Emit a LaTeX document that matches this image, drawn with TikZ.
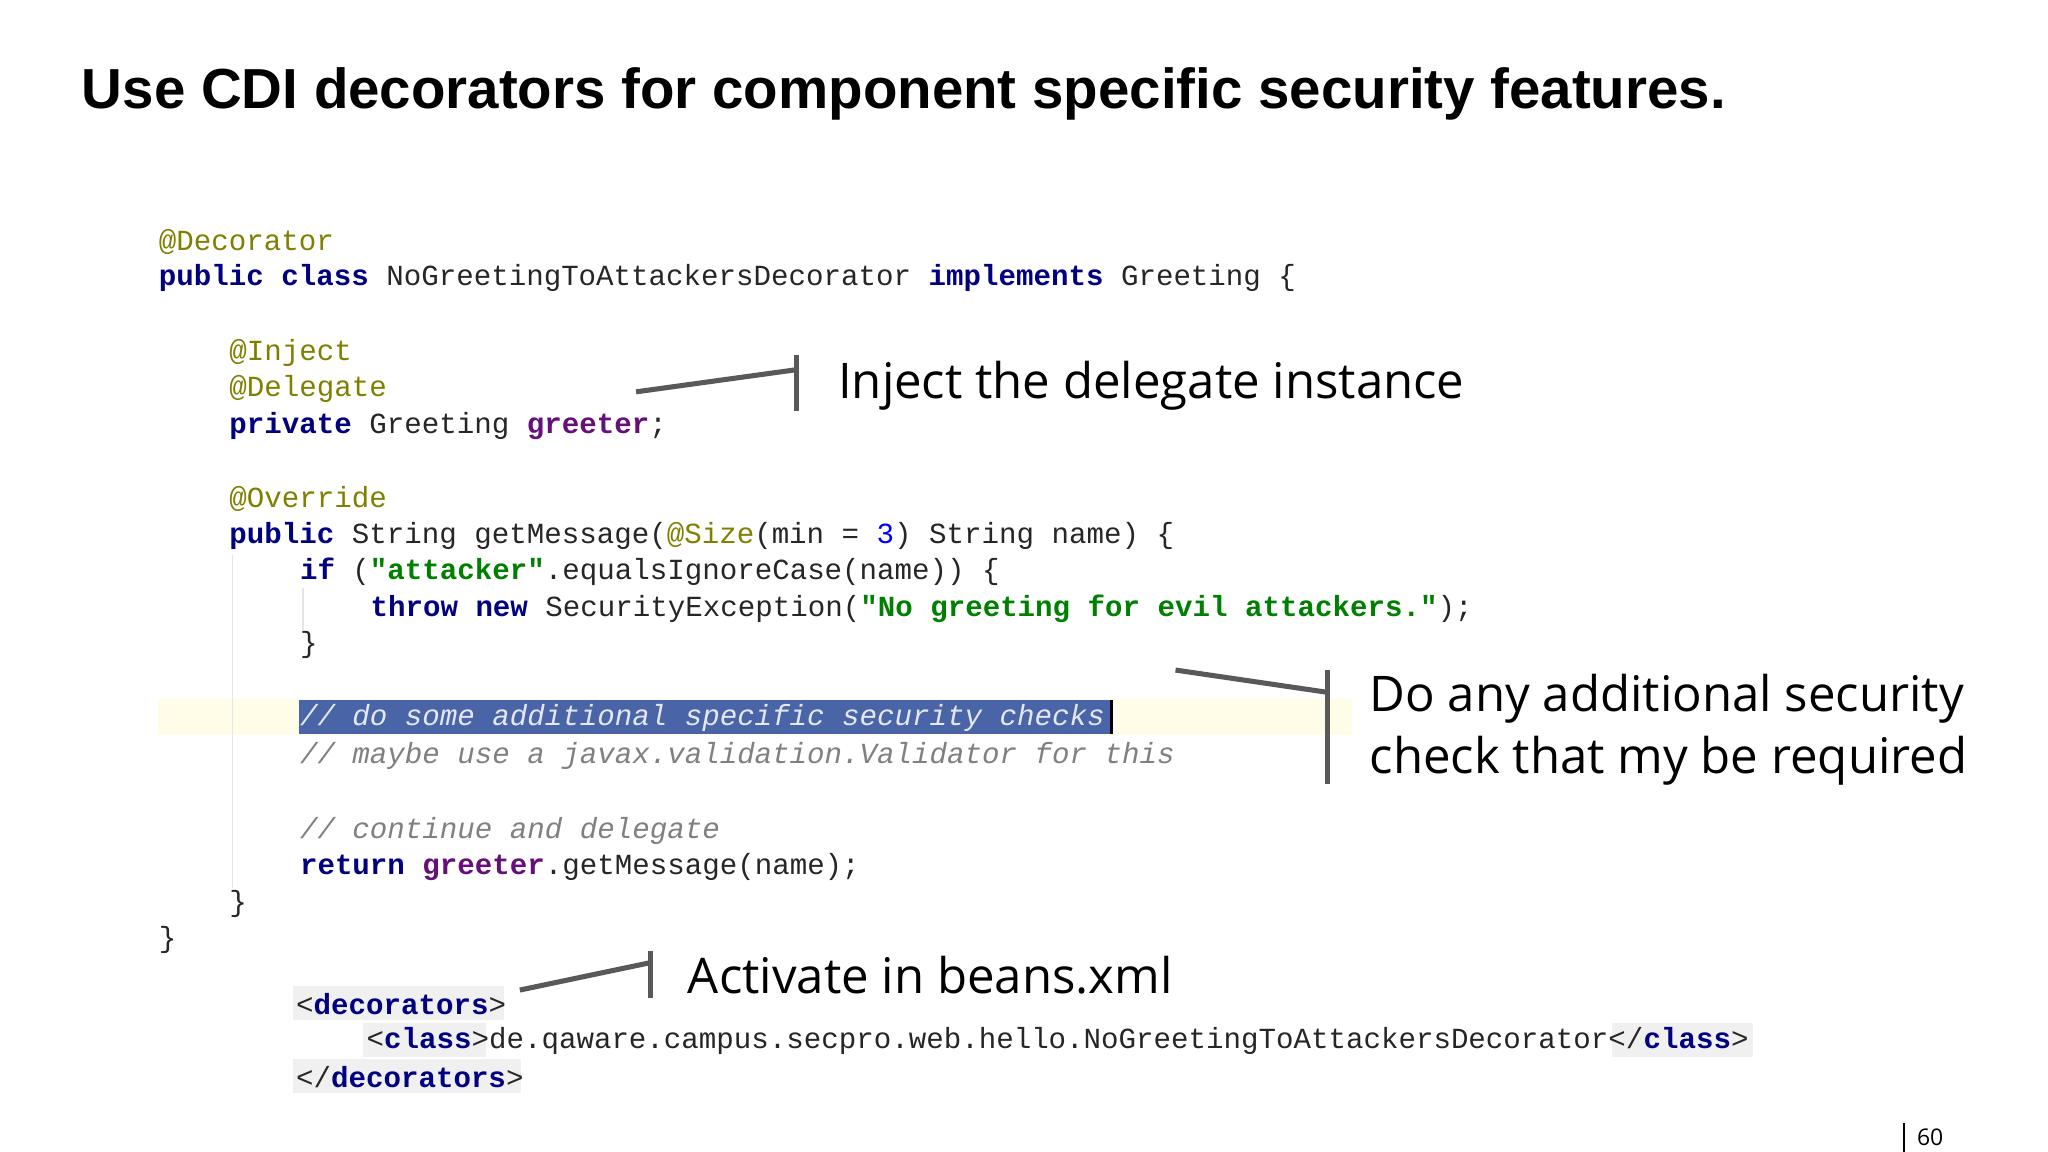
\documentclass[tikz,border=0pt]{standalone}
\usepackage{fontspec}
\setmainfont{Open Sans}
\setmonofont{Liberation Mono}
\newfontfamily\titlefont{Liberation Sans}
\definecolor{ann}{HTML}{808000}
\definecolor{kw}{HTML}{000080}
\definecolor{str}{HTML}{008000}
\definecolor{fld}{HTML}{660E7A}
\definecolor{cmt}{HTML}{808080}
\definecolor{num}{HTML}{0000FF}
\definecolor{call}{HTML}{595959}
\definecolor{sel}{HTML}{4A64A8}
\definecolor{curline}{HTML}{FFFDE8}
\definecolor{txt}{HTML}{262626}
\newcommand{\A}[1]{\textcolor{ann}{#1}}
\newcommand{\K}[1]{\textcolor{kw}{\bfseries #1}}
\newcommand{\St}[1]{\textcolor{str}{\bfseries #1}}
\newcommand{\F}[1]{\textcolor{fld}{\bfseries #1}}
\newcommand{\C}[1]{\textcolor{cmt}{\itshape #1}}
\newcommand{\N}[1]{\textcolor{num}{#1}}
\begin{document}
\begin{tikzpicture}[x=0.1mm,y=-0.1mm,
  code/.style={anchor=west,inner sep=0pt,font=\ttfamily\fontsize{6.35pt}{7pt}\selectfont,text=txt},
  note/.style={anchor=west,inner sep=0pt,font=\fontsize{10.7pt}{13.5pt}\selectfont,text=black,align=left},
  callout/.style={draw=call,line width=1.1pt},
  guide/.style={draw=black!10,line width=0.3pt}]
\useasboundingbox[fill=white] (0,0) rectangle (1568,882);
\node[anchor=west,inner sep=0pt,font=\titlefont\bfseries\fontsize{12.3pt}{15pt}\selectfont] (title) at (62,72) {Use CDI decorators for component specific security features.};
% highlights
\fill[curline] (121,535) rectangle (1035,563);
\fill[sel] (229,536) rectangle (851,562);
\draw[black,line width=0.6pt] (851,536) -- (851,562);
\draw[guide] (178,425) -- (178,680);
\draw[guide] (232,450) -- (232,482);
\fill[black!6] (224,755) rectangle (386,781);
\fill[black!6] (224,811) rectangle (399,837);
\fill[black!6] (278,783) rectangle (372,809);
\fill[black!6] (1234,783) rectangle (1342,809);
% code
\node[code] (l1) at (121,185) {\A{@Decorator}};
\node[code] (l2) at (121,213) {\K{public} \K{class} NoGreetingToAttackersDecorator \K{implements} Greeting \{};
\node[code] (l3) at (175,270) {\A{@Inject}};
\node[code] (l4) at (175,298) {\A{@Delegate}};
\node[code] (l5) at (175,326) {\K{private} Greeting \F{greeter};};
\node[code] (l6) at (175,382) {\A{@Override}};
\node[code] (l7) at (175,410) {\K{public} String getMessage(\A{@Size}(min = \N{3}) String name) \{};
\node[code] (l8) at (229,438) {\K{if} (\St{"attacker"}.equalsIgnoreCase(name)) \{};
\node[code] (l9) at (283,466) {\K{throw} \K{new} SecurityException(\St{"No greeting for evil attackers."});};
\node[code] (l10) at (229,494) {\}};
\node[code] (l11) at (229,550) {\textcolor{white!85!sel}{\itshape // do some additional specific security checks}};
\node[code] (l12) at (229,579) {\C{// maybe use a javax.validation.Validator for this}};
\node[code] (l13) at (229,636) {\C{// continue and delegate}};
\node[code] (l14) at (229,664) {\K{return} \F{greeter}.getMessage(name);};
\node[code] (l15) at (175,692) {\}};
\node[code] (l16) at (121,720) {\}};
\node[code] (b1) at (226,769) {<\K{decorators}>};
\node[code] (b2) at (280,797) {<\K{class}>de.qaware.campus.secpro.web.hello.NoGreetingToAttackersDecorator</\K{class}>};
\node[code] (b3) at (226,825) {</\K{decorators}>};
% callouts
\node[note] (n1) at (641,295) {Inject the delegate instance};
\node[note] (n2) at (1048,559) {Do any additional security\\check that my be required};
\node[note] (n3) at (526,747) {Activate in beans.xml};
\coordinate (c1a) at (487,300); \coordinate (c1b) at (610,283);
\draw[callout] (c1a) -- (c1b); \draw[callout] (610,272) -- (610,315);
\coordinate (c2a) at (900,513); \coordinate (c2b) at (1016,530);
\draw[callout] (c2a) -- (c2b); \draw[callout] (1016,513) -- (1016,600);
\coordinate (c3a) at (398,758); \coordinate (c3b) at (498,737);
\draw[callout] (c3a) -- (c3b); \draw[callout] (498,728) -- (498,764);
% page number
\draw[black,line width=0.4pt] (1458,860) -- (1458,882);
\node[anchor=west,inner sep=0pt,font=\fontsize{5pt}{6pt}\selectfont] (pg) at (1467,871) {60};
\end{tikzpicture}
\end{document}
